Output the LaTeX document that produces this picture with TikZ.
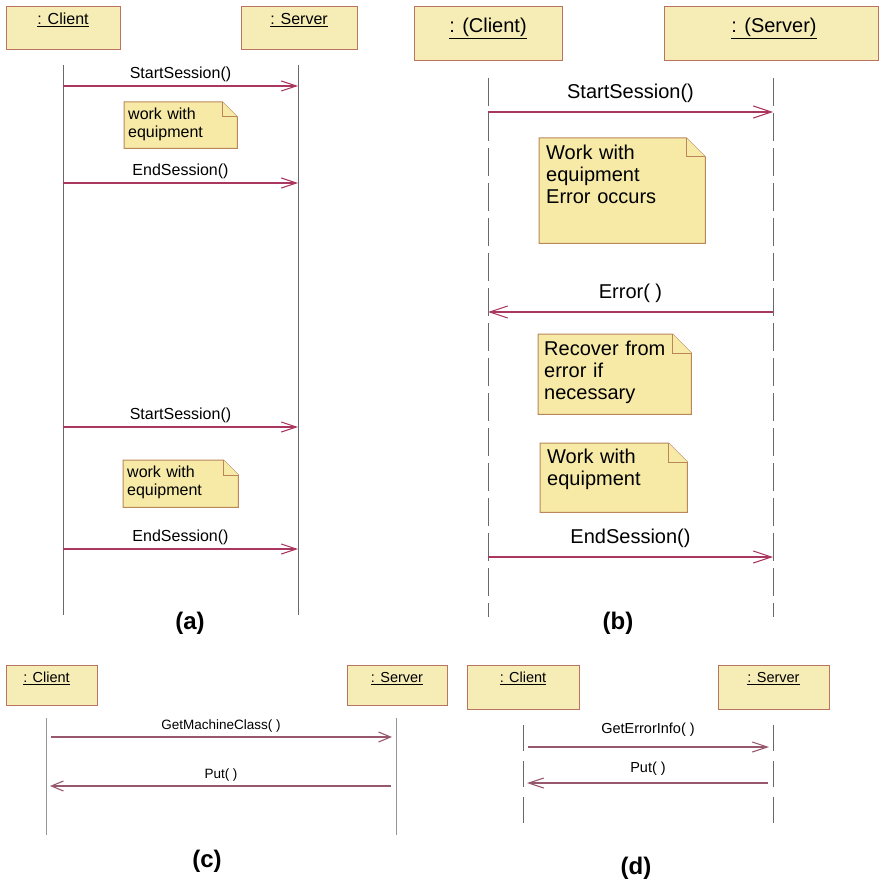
\documentclass[tikz,border=0pt]{standalone}
\usepackage{fontspec}
\setmainfont{Liberation Sans}
\usepackage{tikz}
\usetikzlibrary{positioning,arrows.meta,backgrounds}

\definecolor{headfill}{RGB}{246,237,182}
\definecolor{headdraw}{RGB}{185,115,95}
\definecolor{notefill}{RGB}{246,234,166}
\definecolor{notedraw}{RGB}{185,135,90}
\definecolor{msgcol}{RGB}{170,55,95}
\definecolor{lifecol}{RGB}{105,105,105}

\begin{document}
\begin{tikzpicture}[x=1pt, y=-1pt,
    objbox/.style={rectangle, draw=headdraw, fill=headfill, line width=1pt},
    objname/.style={anchor=base, inner sep=0pt},
    life/.style={draw=lifecol, line width=1pt},
    lifedash/.style={life, dash pattern=on 28pt off 7pt},
    msg/.style={draw=msgcol, line width=1.1pt, -{Straight Barb[length=15pt, width=10pt]}},
    msglite/.style={msg, draw=msgcol!55!gray, shorten <=5pt, shorten >=4pt},
    note/.style={anchor=north west, align=left, inner sep=4pt},
    notebox/.style={draw=notedraw, fill=notefill, line width=1pt},
    fa/.style={font=\fontsize{16}{18.5}\selectfont},
    fb/.style={font=\fontsize{20}{22}\selectfont},
    fc/.style={font=\fontsize{13.5}{16}\selectfont},
    fd/.style={font=\fontsize{14.5}{17}\selectfont},
    panel/.style={font=\fontsize{24}{28}\selectfont\bfseries}
  ]
  \useasboundingbox (0,0) rectangle (880,882);

  % (a) two plain sessions
  \node[objbox, minimum width=114pt, minimum height=43pt] (aC) at (63,28.5) {};
  \node[objbox, minimum width=116pt, minimum height=43pt] (aS) at (299,28.5) {};
  \node[objname, fa] (aCn) at ([yshift=-18pt]aC.north) {\underline{: Client}};
  \node[objname, fa] (aSn) at ([yshift=-18pt]aS.north) {\underline{: Server}};
  \coordinate (aCtop) at (63,65);  \coordinate (aCbot) at (63,615);
  \coordinate (aStop) at (298,65); \coordinate (aSbot) at (298,615);
  \draw[life] (aCtop) -- (aCbot);
  \draw[life] (aStop) -- (aSbot);
  \draw[msg] (aCtop |- 0,86) -- (aStop |- 0,86) node[midway, above, fa] (aM1) {StartSession()};
  \draw[msg] (aCtop |- 0,183) -- (aStop |- 0,183) node[midway, above, fa] (aM2) {EndSession()};
  \draw[msg] (aCtop |- 0,427) -- (aStop |- 0,427) node[midway, above, fa] (aM3) {StartSession()};
  \draw[msg] (aCtop |- 0,549) -- (aStop |- 0,549) node[midway, above, fa] (aM4) {EndSession()};
  \node[note, fa, text width=105pt, text height=13pt, text depth=25pt] (aN1) at (124,102) {work with\\equipment};
  \node[note, fa, text width=107pt, text height=13pt, text depth=26pt] (aN2) at (123,460) {work with\\equipment};
  \node[panel] (aL) at (190,623) {(a)};

  % (b) session with error
  \node[objbox, minimum width=148pt, minimum height=54pt] (bC) at (488,34) {};
  \node[objbox, minimum width=214pt, minimum height=54pt] (bS) at (771,34) {};
  \node[objname, fb] (bCn) at ([yshift=-26pt]bC.north) {\underline{: (Client)}};
  \node[objname, fb] (bSn) at ([xshift=3pt, yshift=-26pt]bS.north) {\underline{: (Server)}};
  \coordinate (bCtop) at (488,78);  \coordinate (bCbot) at (488,617);
  \coordinate (bStop) at (773,78);  \coordinate (bSbot) at (773,617);
  \draw[lifedash] (bCtop) -- (bCbot);
  \draw[lifedash] (bStop) -- (bSbot);
  \draw[msg, -{Straight Barb[length=18pt, width=12pt]}] (bCtop |- 0,112) -- (bStop |- 0,112) node[midway, above=5pt, fb] (bM1) {StartSession()};
  \draw[msg, -{Straight Barb[length=18pt, width=12pt]}] (bStop |- 0,312) -- (bCtop |- 0,312) node[midway, above=5pt, fb] (bM2) {Error( )};
  \draw[msg, -{Straight Barb[length=18pt, width=12pt]}] (bCtop |- 0,557) -- (bStop |- 0,557) node[midway, above=5pt, fb] (bM3) {EndSession()};
  \node[note, fb, inner xsep=7pt, inner ysep=5pt, text width=152pt, text height=16pt, text depth=79pt] (bN1) at (539,138) {Work with\\equipment\\Error occurs};
  \node[note, fb, inner xsep=6pt, inner ysep=5pt, text width=141pt, text height=16pt, text depth=54pt] (bN2) at (538,334) {Recover from\\error if\\necessary};
  \node[note, fb, inner xsep=7pt, inner ysep=5pt, text width=133pt, text height=15pt, text depth=44pt] (bN3) at (540,443) {Work with\\equipment};
  \node[panel] (bL) at (618,623) {(b)};

  % dog-eared note shapes
  \begin{scope}[on background layer]
    \foreach \n/\f in {aN1/15, aN2/15, bN1/19, bN2/19, bN3/19}{
      \draw[notebox] (\n.north west) -- ([xshift=-\f pt]\n.north east) -- ([yshift=-\f pt]\n.north east)
        -- (\n.south east) -- (\n.south west) -- cycle;
      \draw[notebox] ([xshift=-\f pt]\n.north east) |- ([yshift=-\f pt]\n.north east);
    }
  \end{scope}

  % (c) machine class query
  \node[objbox, minimum width=91pt, minimum height=40pt] (cC) at (51.5,685) {};
  \node[objbox, minimum width=100pt, minimum height=40pt] (cS) at (397,685) {};
  \node[objname, fd] (cCn) at ([xshift=-5pt, yshift=-18pt]cC.north) {\underline{: Client}};
  \node[objname, fd] (cSn) at ([yshift=-18pt]cS.north) {\underline{: Server}};
  \coordinate (cCtop) at (46,718);  \coordinate (cCbot) at (46,835);
  \coordinate (cStop) at (396,718); \coordinate (cSbot) at (396,835);
  \draw[life, draw=lifecol!70] (cCtop) -- (cCbot);
  \draw[life, draw=lifecol!70] (cStop) -- (cSbot);
  \draw[msglite, -{Straight Barb[length=12pt, width=10pt]}] (cCtop |- 0,737) -- (cStop |- 0,737) node[midway, above=1pt, fc] (cM1) {GetMachineClass( )};
  \draw[msglite, -{Straight Barb[length=12pt, width=10pt]}] (cStop |- 0,786) -- (cCtop |- 0,786) node[midway, above=1pt, fc] (cM2) {Put( )};
  \node[panel] (cL) at (207,861) {(c)};

  % (d) error info query
  \node[objbox, minimum width=112pt, minimum height=44pt] (dC) at (523,687) {};
  \node[objbox, minimum width=111pt, minimum height=44pt] (dS) at (773.5,687) {};
  \node[objname, fd] (dCn) at ([yshift=-18pt]dC.north) {\underline{: Client}};
  \node[objname, fd] (dSn) at ([yshift=-18pt]dS.north) {\underline{: Server}};
  \coordinate (dCtop) at (523,725); \coordinate (dCbot) at (523,823);
  \coordinate (dStop) at (773,725); \coordinate (dSbot) at (773,823);
  \draw[life, dash pattern=on 26pt off 10pt] (dCtop) -- (dCbot);
  \draw[life, dash pattern=on 26pt off 10pt] (dStop) -- (dSbot);
  \draw[msglite] (dCtop |- 0,747) -- (dStop |- 0,747) node[midway, above=7pt, fd] (dM1) {GetErrorInfo( )};
  \draw[msglite] (dStop |- 0,783) -- (dCtop |- 0,783) node[midway, above=4pt, fd] (dM2) {Put( )};
  \node[panel] (dL) at (636,868) {(d)};
\end{tikzpicture}
\end{document}
